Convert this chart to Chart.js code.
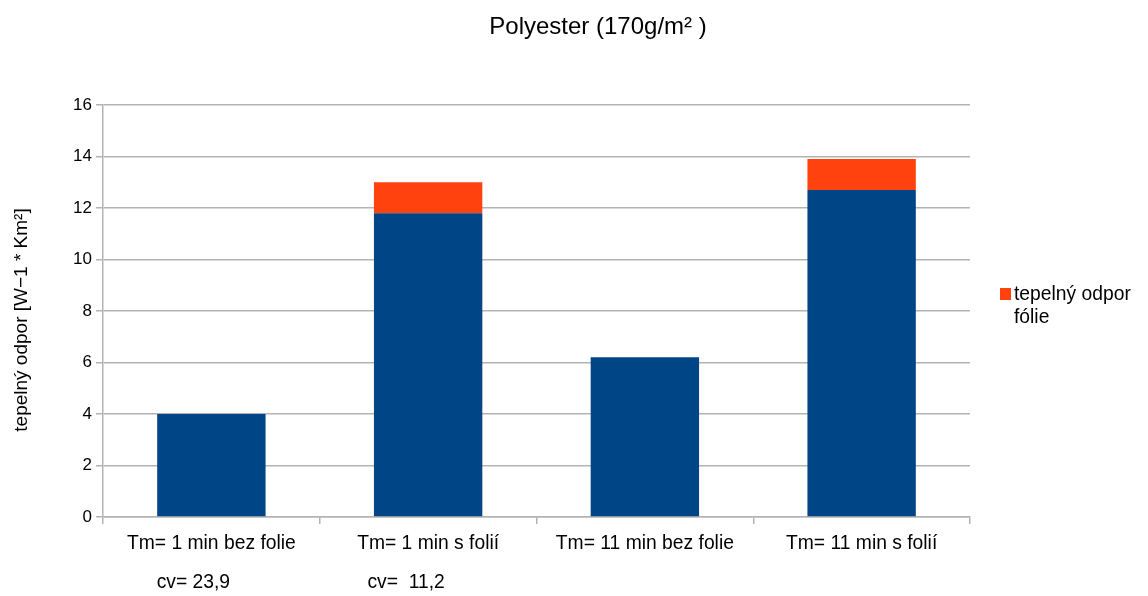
<!DOCTYPE html>
<html>
<head>
<meta charset="utf-8">
<script src="https://cdn.jsdelivr.net/npm/chart.js@4/dist/chart.umd.min.js"></script>
<style>
  html, body { margin: 0; padding: 0; background: #ffffff; }
  #wrap { width: 1148px; height: 596px; position: relative; }
</style>
</head>
<body>
<div id="wrap"><canvas id="chart"></canvas></div>
<script>
// Data
const categories = ['Tm= 1 min bez folie', 'Tm= 1 min s folií', 'Tm= 11 min bez folie', 'Tm= 11 min s folií'];
const baseValues = [4.0, 11.8, 6.2, 12.7];
const foilValues = [null, 1.2, null, 1.2];
const cvLabels = ['cv= 23,9', 'cv=  11,2'];
const yTickMin = 0;
const yTickMax = 16;
const yTickStep = 2;
const chartTitle = 'Polyester (170g/m² )';
const yAxisTitle = 'tepelný odpor [W−1 * Km²]';
const foilLegendLines = ['tepelný odpor', 'fólie'];

const FONT = '"Liberation Sans", Arial, sans-serif';
const TEXT_SIZE = 19.3;
const BLUE = '#004586';
const ORANGE = '#ff420e';
const GRID = '#b3b3b3';

// Extra text: title, axis title, cv notes and the legend entry
const extras = {
  id: 'extras',
  afterDraw(chart) {
    const ctx = chart.ctx;
    const x = chart.scales.x;
    ctx.save();
    ctx.fillStyle = '#000';
    ctx.textBaseline = 'middle';

    ctx.font = '24px ' + FONT;
    ctx.textAlign = 'center';
    ctx.fillText(chartTitle, 598, 27);

    ctx.font = '19px ' + FONT;
    ctx.save();
    ctx.translate(22, 320);
    ctx.rotate(-Math.PI / 2);
    ctx.fillText(yAxisTitle, 0, 0);
    ctx.restore();

    ctx.font = TEXT_SIZE + 'px ' + FONT;
    cvLabels.forEach((t, i) => {
      const cx = x.getPixelForValue(i) - 18 - 4 * i;
      ctx.fillText(t, cx, 583);
    });

    ctx.fillStyle = ORANGE;
    ctx.fillRect(1000, 288, 11, 12);
    ctx.fillStyle = '#000';
    ctx.textAlign = 'left';
    foilLegendLines.forEach((t, i) => ctx.fillText(t, 1014, 295 + i * 23));
    ctx.restore();
  }
};

new Chart(document.getElementById('chart'), {
  type: 'bar',
  data: {
    labels: categories,
    datasets: [
      { label: 'tepelný odpor', data: baseValues, backgroundColor: BLUE, borderWidth: 0,
        barPercentage: 0.5, categoryPercentage: 1.0 },
      { label: foilLegendLines.join(' '), data: foilValues, backgroundColor: ORANGE, borderWidth: 0,
        barPercentage: 0.5, categoryPercentage: 1.0 }
    ]
  },
  options: {
    responsive: true,
    maintainAspectRatio: false,
    animation: false,
    layout: { padding: { left: 0, right: 178, top: 105, bottom: 0 } },
    plugins: {
      legend: { display: false },
      title: { display: false },
      tooltip: { enabled: false }
    },
    scales: {
      x: {
        stacked: true,
        afterFit(scale) { scale.height = 79; },
        grid: { drawOnChartArea: false, drawTicks: true, tickLength: 7, color: GRID, offset: true, lineWidth: 1.5 },
        border: { color: GRID, width: 1.5 },
        ticks: { color: '#000', font: { family: FONT, size: TEXT_SIZE }, padding: 8, maxRotation: 0 }
      },
      y: {
        stacked: true,
        min: yTickMin,
        max: yTickMax,
        afterFit(scale) { scale.width = 103; },
        grid: { color: GRID, lineWidth: 1.5, tickLength: 7 },
        border: { color: GRID, width: 1.5 },
        ticks: { stepSize: yTickStep, color: '#000', font: { family: FONT, size: 17 }, padding: 4 }
      }
    }
  },
  plugins: [extras]
});
</script>
</body>
</html>
